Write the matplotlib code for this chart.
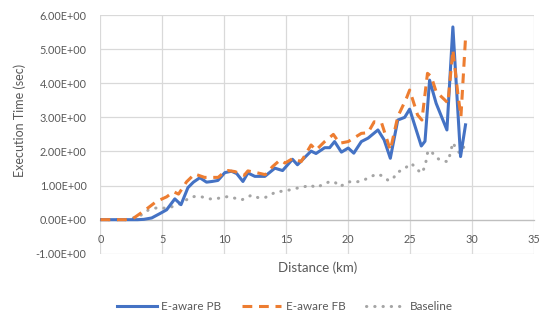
import matplotlib
matplotlib.use("Agg")
import matplotlib.pyplot as plt
from matplotlib.ticker import FuncFormatter, MultipleLocator

pb_x = [0, 1, 2, 3, 3.5, 4.13, 4.8, 5.34, 6.0, 6.5,
        7.06, 7.5, 8.02, 8.56, 9.0, 9.48, 10.04, 10.58, 11.0, 11.5,
        11.9, 12.46, 13.27, 14.08, 14.7, 15.5, 15.9, 17.0, 17.4, 18.1,
        18.5, 18.9, 19.45, 20.0, 20.45, 21.06, 21.6, 22.4, 22.9, 23.4,
        24.0, 24.56, 24.96, 25.36, 25.9, 26.2, 26.57, 27.1, 27.97, 28.45,
        29.07, 29.47]
pb_y = [0, 0, 0, 0, 0.01, 0.05, 0.18, 0.29, 0.61, 0.44,
        0.94, 1.1, 1.23, 1.1, 1.12, 1.15, 1.38, 1.42, 1.35, 1.12,
        1.37, 1.27, 1.27, 1.51, 1.44, 1.77, 1.61, 2.01, 1.94, 2.11,
        2.11, 2.29, 1.98, 2.1, 1.95, 2.29, 2.39, 2.63, 2.34, 1.80,
        2.92, 3.0, 3.24, 2.78, 2.16, 2.3, 4.09, 3.41, 2.63, 5.65,
        1.85, 2.78]

fb_x = [0, 1, 2, 2.65, 3.6, 4.5, 5.34, 5.9, 6.3, 6.95,
        7.6, 8.4, 9.5, 10.04, 10.3, 10.85, 11.6, 11.9, 12.7, 13.3,
        13.9, 14.5, 14.9, 15.55, 16.2, 17.0, 17.4, 18.1, 18.8, 19.3,
        20.0, 21.06, 21.6, 22.1, 22.7, 23.4, 24.0, 24.7, 24.96, 25.6,
        25.95, 26.4, 26.7, 27.1, 27.8, 28.05, 28.45, 28.85, 29.1, 29.47]
fb_y = [0, 0, 0, 0.04, 0.28, 0.53, 0.67, 0.82, 0.75, 1.11,
        1.34, 1.24, 1.24, 1.41, 1.44, 1.41, 1.3, 1.43, 1.37, 1.32,
        1.56, 1.75, 1.66, 1.8, 1.7, 2.19, 2.04, 2.29, 2.5, 2.24,
        2.29, 2.53, 2.55, 2.87, 2.83, 2.04, 3.02, 3.56, 3.8, 3.07,
        2.92, 4.29, 4.2, 3.75, 3.51, 3.42, 4.98, 3.7, 3.02, 5.32]

bl_x = [0, 1, 2, 2.8, 3.3, 3.85, 4.66, 5.34, 5.87, 6.55,
        7.2, 7.6, 8.16, 8.8, 9.2, 9.9, 10.3, 11.4, 12.2, 12.7,
        13.3, 14.2, 14.9, 15.8, 16.35, 16.9, 17.4, 18.4, 18.9, 19.3,
        20.1, 20.6, 21.2, 21.7, 22.3, 22.8, 23.2, 23.6, 23.9, 24.4,
        25.1, 25.5, 25.9, 26.2, 26.4, 26.65, 27.0, 27.5, 28.05, 28.2,
        28.45, 28.7, 29.0, 29.35]
bl_y = [0, 0, 0, 0.06, 0.14, 0.28, 0.36, 0.33, 0.39, 0.48,
        0.65, 0.68, 0.67, 0.61, 0.61, 0.65, 0.68, 0.58, 0.72, 0.65,
        0.65, 0.82, 0.84, 0.92, 0.95, 1.02, 0.94, 1.10, 1.11, 0.97,
        1.11, 1.10, 1.15, 1.24, 1.34, 1.28, 1.16, 1.18, 1.38, 1.46,
        1.65, 1.5, 1.36, 1.55, 1.95, 2.04, 1.85, 1.73, 1.70, 1.89,
        2.26, 2.09, 1.95, 2.14]

series_names = ["E-aware PB", "E-aware FB", "Baseline"]
x_label = "Distance (km)"
y_label = "Execution Time (sec)"

plt.rcParams['font.family'] = ['Lato', 'DejaVu Sans']
txt = '#595959'

fig = plt.figure(figsize=(5.42, 3.16), dpi=100)
ax = fig.add_axes([100.5/542, 1-253.8/316, (534-100.5)/542, (253.8-15)/316])

ax.plot(bl_x, bl_y, color='#A5A5A5', lw=2.2, linestyle=(0, (0.1, 2.6)),
        dash_capstyle='round', label=series_names[2], zorder=2)
ax.plot(pb_x, pb_y, color='#4472C4', lw=2.2, solid_joinstyle='round',
        label=series_names[0], zorder=3)
ax.plot(fb_x, fb_y, color='#ED7D31', lw=2.2, linestyle=(0, (3.2, 2.2)),
        dash_capstyle='butt', label=series_names[1], zorder=4)

ax.set_xlim(0, 35)
ax.set_ylim(-1, 6)
ax.xaxis.set_major_locator(MultipleLocator(5))
ax.yaxis.set_major_locator(MultipleLocator(1))
ax.yaxis.set_major_formatter(FuncFormatter(lambda v, p: f"{v:.2E}"))
ax.grid(True, color='#d9d9d9', lw=0.9, zorder=0)
ax.set_axisbelow(True)
for s in ['top', 'right', 'left']:
    ax.spines[s].set_visible(False)
ax.spines['bottom'].set_position(('data', 0))
ax.spines['bottom'].set_color('#bfbfbf')
ax.spines['bottom'].set_linewidth(0.9)
ax.tick_params(axis='both', length=0, labelsize=7.8, labelcolor=txt)
ax.tick_params(axis='x', pad=10.5)
ax.tick_params(axis='y', pad=10)

fig.text(0.5*(100.5+534)/542, 1-268/316, x_label, ha='center', va='center',
         fontsize=9.5, color=txt)
fig.text(20/542, 1-120/316, y_label, ha='center', va='center', rotation=90,
         fontsize=9.0, color=txt)

h, l = ax.get_legend_handles_labels()
order = [1, 2, 0]
leg = fig.legend([h[i] for i in order], [l[i] for i in order], loc='center',
                 bbox_to_anchor=(285/542, 1-307/316), ncol=3, frameon=False,
                 fontsize=8.4, handlelength=3.4, handletextpad=0.35,
                 columnspacing=1.8, labelcolor=txt)

fig.savefig('out.png', dpi=100)
